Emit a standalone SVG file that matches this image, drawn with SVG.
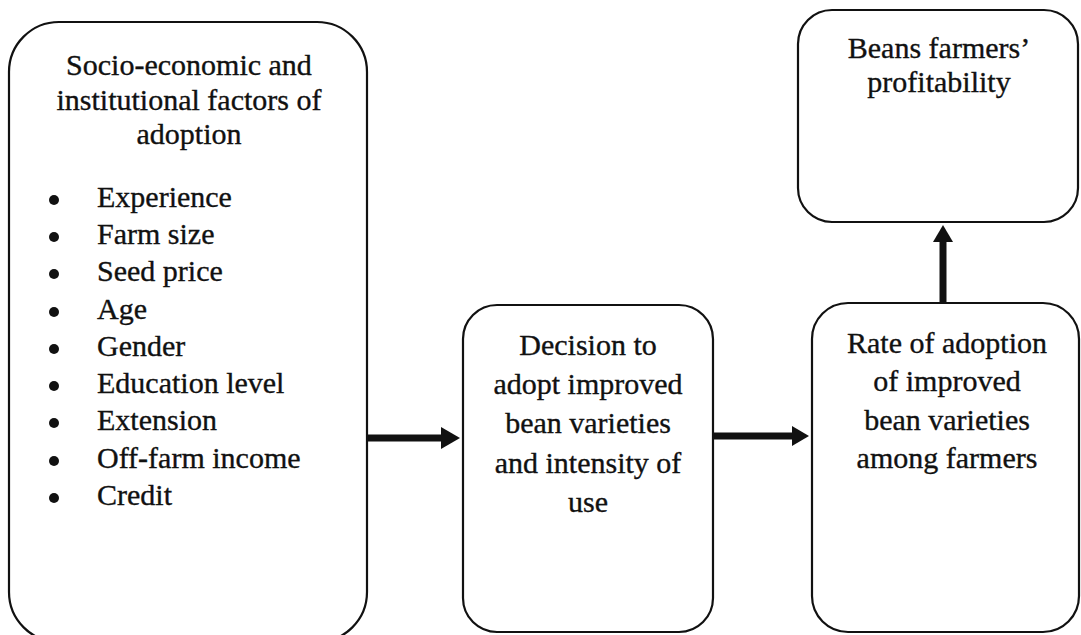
<svg xmlns="http://www.w3.org/2000/svg" width="1081" height="635" viewBox="0 0 1081 635">
  <defs>
    <style>
      .box { fill: #ffffff; stroke: #111111; stroke-width: 2.2; }
      .txt { font-family: "Liberation Serif", "Times New Roman", serif; font-size: 30px; fill: #111111; stroke: #111111; stroke-width: 0.35; }
      .ctr { text-anchor: middle; }
      .conn { stroke: #111111; stroke-width: 7; fill: none; }
    </style>
    <marker id="headL" markerUnits="userSpaceOnUse" markerWidth="20" markerHeight="24" refX="0" refY="11" orient="auto">
      <path d="M0,0 L19,11 L0,22 z" fill="#111111"/>
    </marker>
    <marker id="headS" markerUnits="userSpaceOnUse" markerWidth="20" markerHeight="24" refX="0" refY="10" orient="auto">
      <path d="M0,0 L17,10 L0,20 z" fill="#111111"/>
    </marker>
  </defs>
  <rect width="1081" height="635" fill="#ffffff"/>

  <g id="connectors">
    <line class="conn" x1="368" y1="438" x2="441" y2="438" marker-end="url(#headL)"/>
    <line class="conn" x1="713" y1="436" x2="792" y2="436" marker-end="url(#headS)"/>
    <line class="conn" x1="943" y1="303" x2="943" y2="242" marker-end="url(#headS)"/>
  </g>

  <g id="factors">
    <rect class="box" x="9" y="22" width="358" height="620" rx="50" ry="50"/>
    <text class="txt ctr" x="189" y="75">Socio-economic and</text>
    <text class="txt ctr" x="189" y="110">institutional factors of</text>
    <text class="txt ctr" x="189" y="144">adoption</text>
    <g fill="#111111">
      <circle cx="54" cy="200" r="5"/>
      <circle cx="54" cy="237" r="5"/>
      <circle cx="54" cy="274" r="5"/>
      <circle cx="54" cy="312" r="5"/>
      <circle cx="54" cy="349" r="5"/>
      <circle cx="54" cy="386" r="5"/>
      <circle cx="54" cy="423" r="5"/>
      <circle cx="54" cy="461" r="5"/>
      <circle cx="54" cy="498" r="5"/>
    </g>
    <text class="txt" x="97" y="207">Experience</text>
    <text class="txt" x="97" y="244">Farm size</text>
    <text class="txt" x="97" y="281">Seed price</text>
    <text class="txt" x="97" y="319">Age</text>
    <text class="txt" x="97" y="356">Gender</text>
    <text class="txt" x="97" y="393">Education level</text>
    <text class="txt" x="97" y="430">Extension</text>
    <text class="txt" x="97" y="468">Off-farm income</text>
    <text class="txt" x="97" y="505">Credit</text>
  </g>

  <g id="decision">
    <rect class="box" x="463" y="305" width="250" height="327" rx="34" ry="34"/>
    <text class="txt ctr" x="588" y="355">Decision to</text>
    <text class="txt ctr" x="588" y="394">adopt improved</text>
    <text class="txt ctr" x="588" y="433">bean varieties</text>
    <text class="txt ctr" x="588" y="473">and intensity of</text>
    <text class="txt ctr" x="588" y="512">use</text>
  </g>

  <g id="rate">
    <rect class="box" x="812" y="303" width="267" height="329" rx="36" ry="36"/>
    <text class="txt ctr" x="947" y="353">Rate of adoption</text>
    <text class="txt ctr" x="947" y="391">of improved</text>
    <text class="txt ctr" x="947" y="430">bean varieties</text>
    <text class="txt ctr" x="947" y="468">among farmers</text>
  </g>

  <g id="profitability">
    <rect class="box" x="798" y="10" width="280" height="212" rx="34" ry="34"/>
    <text class="txt ctr" x="939" y="58">Beans farmers’</text>
    <text class="txt ctr" x="939" y="92">profitability</text>
  </g>
</svg>
